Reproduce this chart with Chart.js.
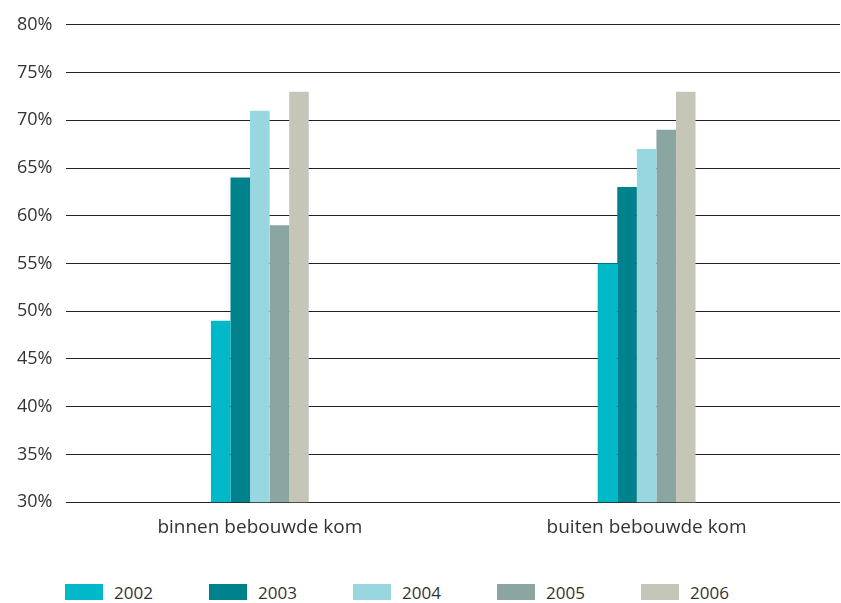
<!DOCTYPE html>
<html lang="nl">
<head>
  <meta charset="UTF-8">
  <title>Bebouwde kom</title>
  <script src="https://cdn.jsdelivr.net/npm/chart.js"></script>
  <style>
    body { margin: 0; background: #fff; }
    #wrap { position: relative; width: 841px; height: 603px; }
    #grafiekvak { width: 841px; height: 560px; }
    #legenda { position: absolute; left: 65px; top: 583px; height: 20px; }
    .item { position: absolute; top: 0; white-space: nowrap;
            font-family: 'Open Sans', sans-serif; font-size: 17px; color: #333; line-height: 20px; }
    .blok { display: inline-block; width: 38px; height: 16px; vertical-align: top; margin-top: 1px; margin-right: 11px; }
  </style>
</head>
<body>
  <div id="wrap">
    <div id="grafiekvak"><canvas id="grafiek"></canvas></div>
    <div id="legenda"></div>
  </div>
  <script>
    const categorieen = ['binnen bebouwde kom', 'buiten bebouwde kom'];
    const jaren = ['2002', '2003', '2004', '2005', '2006'];
    const waarden2002 = [49, 55];
    const waarden2003 = [64, 63];
    const waarden2004 = [71, 67];
    const waarden2005 = [59, 69];
    const waarden2006 = [73, 73];
    const kleuren = ['#00b8c8', '#00828c', '#98d6e0', '#8ba5a0', '#c5c5b8'];

    const reeksen = [waarden2002, waarden2003, waarden2004, waarden2005, waarden2006];
    const lettertype = "'Open Sans', sans-serif";

    const grafiek = new Chart(document.getElementById('grafiek'), {
      type: 'bar',
      data: {
        labels: categorieen,
        datasets: reeksen.map((d, i) => ({
          label: jaren[i],
          data: d,
          backgroundColor: kleuren[i],
          categoryPercentage: 0.253,
          barPercentage: 1.0
        }))
      },
      options: {
        responsive: true,
        maintainAspectRatio: false,
        animation: false,
        layout: { padding: { top: 6, right: 1, left: 3, bottom: 7 } },
        plugins: {
          tooltip: { enabled: false },
          legend: { display: false }
        },
        scales: {
          x: {
            grid: { display: false, drawTicks: false },
            border: { display: false },
            ticks: { color: '#333', font: { family: lettertype, size: 19 }, padding: 14 }
          },
          y: {
            min: 30,
            max: 80,
            ticks: {
              stepSize: 5,
              color: '#333',
              padding: 14,
              font: { family: lettertype, size: 18 },
              callback: v => v + '%'
            },
            grid: { color: '#222', lineWidth: 1, drawTicks: false },
            border: { display: false }
          }
        }
      }
    });

    // legenda als html onder de grafiek
    const legenda = document.getElementById('legenda');
    grafiek.data.datasets.forEach((ds, i) => {
      const item = document.createElement('div');
      item.className = 'item';
      item.style.left = (i * 144) + 'px';
      item.innerHTML = '<span class="blok" style="background:' + ds.backgroundColor + '"></span>' + ds.label;
      legenda.appendChild(item);
    });
  </script>
</body>
</html>
